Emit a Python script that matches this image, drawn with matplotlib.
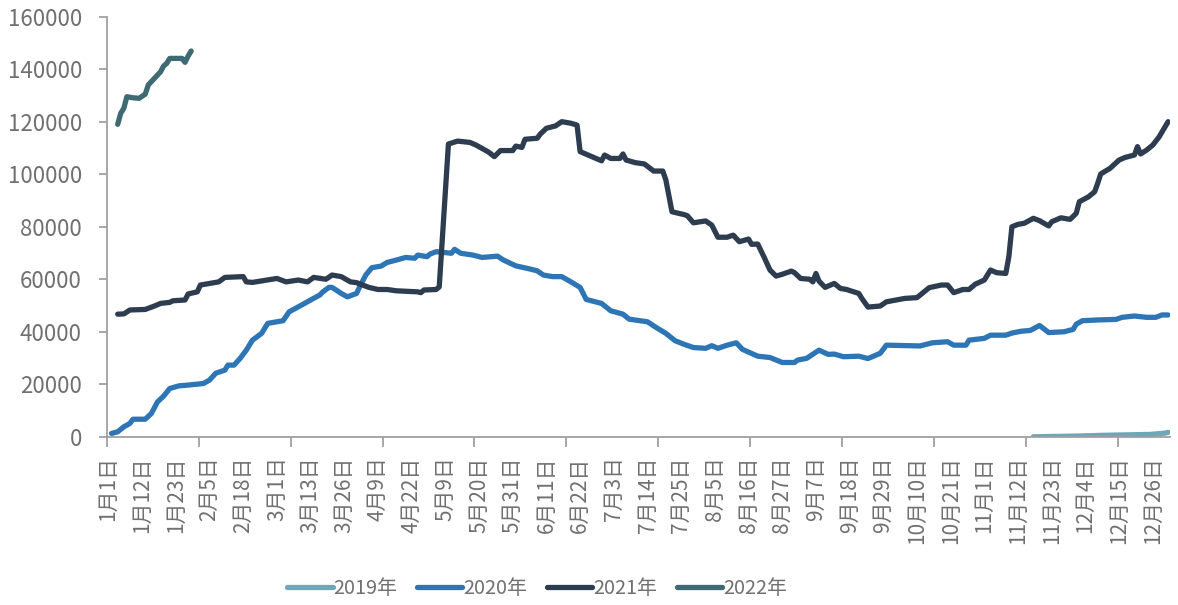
import matplotlib
matplotlib.use("Agg")
import matplotlib.pyplot as plt
from matplotlib.ticker import FixedLocator, MultipleLocator

plt.rcParams['font.family'] = ['Noto Sans CJK SC', 'DejaVu Sans']
plt.rcParams['font.weight'] = 'light'

# Category axis: one slot per trading date, labelled every 11 slots
n_slots = 347
tick_labels = ["1月1日", "1月12日", "1月23日", "2月5日", "2月18日", "3月1日", "3月13日",
               "3月26日", "4月9日", "4月22日", "5月9日", "5月20日", "5月31日", "6月11日",
               "6月22日", "7月3日", "7月14日", "7月25日", "8月5日", "8月16日", "8月27日",
               "9月7日", "9月18日", "9月29日", "10月10日", "10月21日", "11月1日", "11月12日",
               "11月23日", "12月4日", "12月15日", "12月26日"]

# Series: slot index and value (thousands)
x2019 = [302, 317, 326, 340, 345, 346]
v2019 = [0.0, 0.3, 0.6, 0.9, 1.4, 1.7]

x2020 = [1, 3, 5, 7, 8, 12, 14, 16, 18, 20, 23, 26, 31, 33, 35, 38, 39, 41, 43, 45,
         47, 50, 52, 57, 59, 62, 66, 69, 70, 72, 73, 76, 78, 81, 82, 84, 86, 89, 91, 94,
         97, 100, 101, 104, 105, 107, 112, 113, 115, 119, 122, 127, 129, 133, 138, 140, 142, 145, 148, 151,
         154, 156, 161, 164, 168, 170, 176, 179, 182, 185, 188, 191, 195, 197, 199, 202, 205, 207, 212, 216,
         220, 224, 225, 228, 232, 235, 237, 240, 245, 248, 252, 254, 265, 269, 274, 276, 280, 281, 286, 288,
         293, 295, 298, 301, 304, 307, 312, 315, 316, 318, 323, 329, 331, 335, 339, 342, 344, 346]
v2020 = [1.3, 1.9, 3.8, 5.1, 6.7, 6.7, 8.9, 13.3, 15.5, 18.4, 19.4, 19.7, 20.3, 21.6, 24.2, 25.4, 27.3, 27.3, 29.9, 33.0,
         36.8, 39.4, 43.2, 44.2, 47.6, 49.5, 52.1, 54.0, 55.2, 56.9, 56.9, 54.6, 53.3, 54.6, 57.1, 61.6, 64.4, 65.0, 66.4, 67.3,
         68.3, 68.0, 69.2, 68.6, 69.6, 70.5, 69.9, 71.4, 69.9, 69.2, 68.3, 68.8, 67.3, 65.1, 63.8, 63.2, 61.6, 61.0, 61.0, 59.0,
         56.9, 52.3, 50.8, 48.0, 46.7, 44.8, 43.8, 41.5, 39.4, 36.6, 35.2, 34.0, 33.7, 34.7, 33.7, 34.9, 35.8, 33.3, 30.7, 30.2,
         28.3, 28.3, 29.2, 29.9, 33.0, 31.4, 31.5, 30.5, 30.7, 29.8, 31.8, 34.9, 34.6, 35.8, 36.2, 34.9, 34.9, 36.8, 37.5, 38.7,
         38.7, 39.5, 40.2, 40.5, 42.4, 39.7, 40.0, 40.9, 42.9, 44.2, 44.5, 44.7, 45.5, 46.0, 45.5, 45.5, 46.4, 46.4]

x2021 = [3, 5, 7, 12, 15, 17, 20, 21, 25, 26, 29, 30, 33, 36, 38, 44, 45, 47, 55, 58,
         62, 65, 67, 71, 73, 76, 79, 81, 85, 88, 91, 94, 101, 102, 103, 107, 108, 111, 114, 118,
         120, 124, 126, 128, 132, 133, 135, 136, 140, 141, 143, 146, 148, 151, 153, 154, 156, 161, 162, 164,
         167, 168, 169, 172, 175, 178, 181, 182, 184, 188, 189, 191, 195, 197, 199, 202, 204, 206, 209, 210,
         212, 214, 216, 218, 220, 223, 224, 226, 229, 230, 231, 232, 234, 237, 239, 241, 245, 246, 248, 252,
         254, 260, 264, 266, 268, 272, 274, 276, 279, 281, 283, 286, 288, 290, 293, 294, 295, 297, 299, 302,
         304, 307, 308, 311, 314, 316, 317, 320, 322, 323, 324, 327, 330, 332, 335, 336, 337, 339, 341, 343,
         345, 346]
v2021 = [46.7, 46.8, 48.3, 48.5, 49.8, 50.8, 51.2, 51.8, 52.1, 54.4, 55.2, 57.8, 58.4, 59.0, 60.7, 61.0, 59.0, 58.8, 60.3, 59.0,
         59.7, 59.0, 60.7, 60.0, 61.6, 61.0, 59.0, 58.7, 56.9, 56.1, 56.1, 55.6, 55.2, 54.9, 55.9, 56.1, 57.1, 111.5, 112.6, 112.1,
         111.1, 108.5, 106.7, 109.0, 109.0, 110.7, 110.2, 113.3, 113.7, 115.3, 117.5, 118.4, 120.0, 119.4, 118.7, 108.6, 107.6, 105.1, 107.3, 106.0,
         106.0, 107.7, 105.4, 104.4, 103.9, 101.2, 101.2, 97.8, 85.7, 84.6, 84.2, 81.5, 82.2, 80.6, 76.0, 76.0, 76.8, 74.3, 75.3, 73.3,
         73.4, 68.6, 63.5, 61.2, 61.9, 63.1, 62.5, 60.3, 60.0, 59.0, 62.2, 59.3, 56.9, 58.4, 56.5, 56.1, 54.6, 52.7, 49.4, 49.8,
         51.4, 52.7, 53.0, 54.9, 56.8, 57.8, 57.8, 54.9, 56.1, 56.1, 58.1, 59.7, 63.5, 62.5, 62.2, 68.6, 80.0, 80.9, 81.3, 83.2,
         82.3, 80.3, 81.9, 83.4, 82.8, 85.1, 89.5, 91.4, 93.3, 96.5, 100.1, 102.2, 105.4, 106.4, 107.3, 110.5, 107.7, 109.2, 111.1, 114.1,
         118.0, 120.0]

x2022 = [3, 4, 5, 6, 8, 10, 12, 13, 15, 17, 18, 19, 20, 24, 25, 26, 27]
v2022 = [119.0, 123.2, 125.1, 129.5, 129.1, 128.9, 130.5, 134.0, 136.5, 139.0, 141.2, 142.2, 144.1, 144.1, 142.6, 145.0, 146.9]

series = [
    ("2019年", x2019, v2019, "#6fa7b6"),
    ("2020年", x2020, v2020, "#2e75b6"),
    ("2021年", x2021, v2021, "#2d3d4f"),
    ("2022年", x2022, v2022, "#3d6a73"),
]

text_color = "#707070"
axis_color = "#a0a0a0"

fig = plt.figure(figsize=(11.78, 6.05), dpi=100)
ax = fig.add_axes([0.0908, 0.278, 0.9021, 0.6945])

for label, xs, vs, color in series:
    ax.plot(xs, [v * 1000 for v in vs], color=color, lw=3.8, label=label,
            solid_capstyle="round", solid_joinstyle="round")

ax.set_xlim(-0.5, n_slots - 0.5)
ax.set_ylim(0, 160000)
ax.yaxis.set_major_locator(MultipleLocator(20000))

ax.xaxis.set_major_locator(FixedLocator([11 * i for i in range(len(tick_labels))]))
ax.set_xticklabels(tick_labels, rotation=90, fontsize=15, color=text_color)
ax.xaxis.set_minor_locator(FixedLocator([-0.5 + 30 * k for k in range(12)]))
ax.tick_params(axis="x", which="major", length=0, pad=14)
ax.tick_params(axis="x", which="minor", length=7, width=1.3, color=axis_color)
ax.tick_params(axis="y", which="major", length=6, width=1.3, color=axis_color,
               labelsize=16, labelcolor=text_color, pad=12)

for side in ("top", "right"):
    ax.spines[side].set_visible(False)
for side in ("left", "bottom"):
    ax.spines[side].set_color(axis_color)
    ax.spines[side].set_linewidth(1.3)

leg = fig.legend(loc="center", bbox_to_anchor=(0.456, 0.028), ncol=4, frameon=False,
                 fontsize=14.3, handlelength=2.27, handletextpad=0.05, columnspacing=1.0)
for t in leg.get_texts():
    t.set_color(text_color)

fig.savefig("out.png", dpi=100)
